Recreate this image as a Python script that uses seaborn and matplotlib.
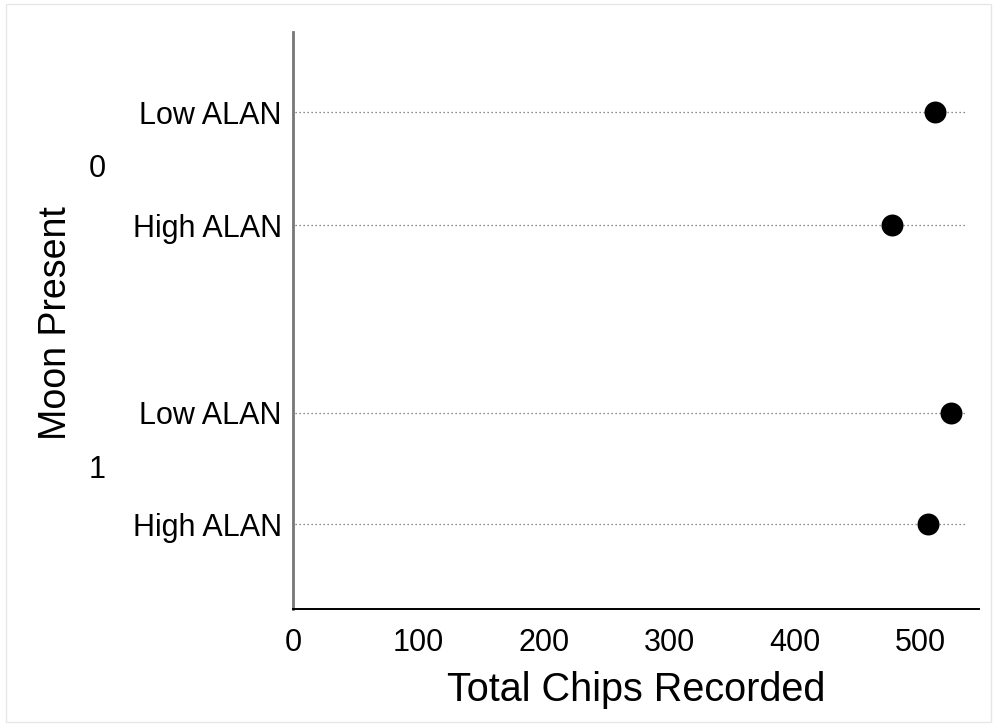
import matplotlib
matplotlib.use("Agg")
import matplotlib.pyplot as plt
import matplotlib.transforms as mtransforms
import seaborn as sns
import pandas as pd

# Data
moon_groups = ["0", "0", "1", "1"]
alan_levels = ["Low ALAN", "High ALAN", "Low ALAN", "High ALAN"]
total_chips = [512, 478, 525, 506]
x_ticks = [0, 100, 200, 300, 400, 500]

# Layout (row positions, not data)
row_pos = [0.0, 1.0, 2.66, 3.65]
group_labels = ["0", "1"]
group_pos = [0.5, 3.17]

df = pd.DataFrame({"moon": moon_groups, "alan": alan_levels,
                   "chips": total_chips, "pos": row_pos})

sns.set_theme(style="white")
plt.rcParams["font.family"] = ["Liberation Sans", "DejaVu Sans"]

fig = plt.figure(figsize=(9.97, 7.26), dpi=100)
W, H = 997, 726
ax = fig.add_axes([293 / W, 1 - 609 / H, (979 - 293) / W, (609 - 32) / H])

# dotted guide lines
ax.hlines(df["pos"], 1.5, 537, colors="#666666", linestyles=(0, (1, 2.2)), linewidth=0.9, zorder=1)

sns.scatterplot(data=df, x="chips", y="pos", ax=ax, color="black", s=250,
                edgecolor="black", linewidth=0, legend=False, zorder=3)

ax.set_xlim(0, 547)
ax.set_ylim(4.40, -0.71)
ax.set_xticks(x_ticks)
ax.set_xticklabels([str(t) for t in x_ticks], fontsize=22)
ax.set_yticks(row_pos)
ax.set_yticklabels(alan_levels, fontsize=22)
ax.tick_params(axis="x", length=11, width=1.3, color="black", pad=3, labelcolor="black")
ax.tick_params(axis="y", length=0, pad=8, labelcolor="black")

for s in ["top", "right"]:
    ax.spines[s].set_visible(False)
ax.spines["left"].set_color("#777777")
ax.spines["left"].set_linewidth(2.0)
ax.spines["bottom"].set_color("black")
ax.spines["bottom"].set_linewidth(1.4)

ax.set_xlabel("Total Chips Recorded", fontsize=28.5, color="black", labelpad=9)
ax.set_ylabel("")

trans = mtransforms.blended_transform_factory(fig.transFigure, ax.transData)
for lab, p in zip(group_labels, group_pos):
    ax.text(97 / W, p, lab, transform=trans, ha="center", va="center",
            fontsize=22, color="black")

fig.text(56 / W, 1 - 323 / H, "Moon Present", rotation=90, ha="center",
         va="center", fontsize=27, color="black")

# light outer frame
fig.patches.append(plt.Rectangle((6 / W, 4 / H), 1 - 12 / W, 1 - 8 / H,
                                 transform=fig.transFigure, fill=False,
                                 edgecolor="#e6e6e6", linewidth=1.0))

fig.savefig("out.png", dpi=100)
